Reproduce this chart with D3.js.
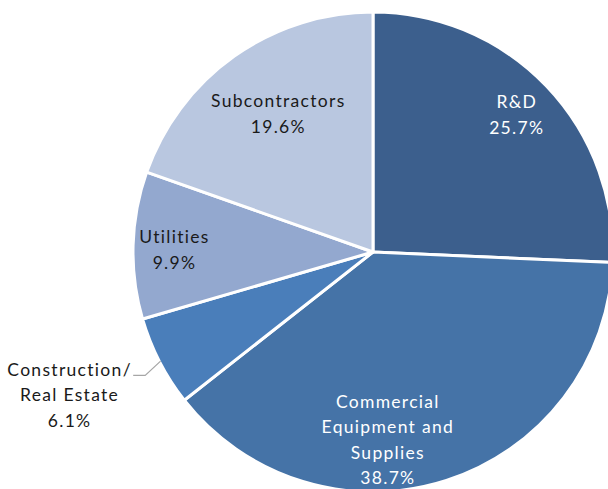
<!DOCTYPE html>
<html>
<head>
<meta charset="utf-8">
<script src="https://cdn.jsdelivr.net/npm/d3@7"></script>
<style>
  body { margin: 0; background: #fff; }
  svg { display: block; font-family: Lato, "Open Sans", sans-serif; }
</style>
</head>
<body>
<div class="chart"></div>
<script>
// slices, clockwise from 12 o'clock
var categories = ["R&D", "Commercial Equipment and Supplies", "Construction/ Real Estate", "Utilities", "Subcontractors"];
var shares = [25.7, 38.7, 6.1, 9.9, 19.6];
// label lines as shown on the chart
var labelLines = [["R&D"], ["Commercial", "Equipment and", "Supplies"], ["Construction/", "Real Estate"], ["Utilities"], ["Subcontractors"]];

var colors = ["#3c5f8d", "#4573a7", "#4a7eba", "#93a8cf", "#b9c7e0"];
var textColors = ["#fff", "#fff", "#1a1a1a", "#1a1a1a", "#1a1a1a"];

var width = 608, height = 489;
var cx = 373, cy = 252, radius = 240;

// label placement: radius as a share of the pie radius, plus angle nudge in degrees
var labelRadius = [0.825, 0.785, 1.4, 0.83, 0.70];
var labelNudge = [0, 13.5, 2, -1, 0.7];

var svg = d3.select(".chart").append("svg")
  .attr("width", width)
  .attr("height", height);

var group = svg.append("g")
  .attr("transform", "translate(" + cx + "," + cy + ")");

var pie = d3.pie().sort(null).value(function(d) { return d; });
var arcGen = d3.arc().innerRadius(0).outerRadius(radius);
var slices = pie(shares);

group.selectAll("path.slice")
  .data(slices)
  .enter()
  .append("path")
  .attr("class", "slice")
  .attr("d", arcGen)
  .attr("fill", function(d, i) { return colors[i]; })
  .attr("stroke", "#fff")
  .attr("stroke-width", 3)
  .attr("stroke-linejoin", "round");

function polar(angle, r) {
  return [r * Math.sin(angle), -r * Math.cos(angle)];
}

var lineHeight = 25.5;
var spacing = 1.3;

slices.forEach(function(s, i) {
  var mid = (s.startAngle + s.endAngle) / 2;
  var ang = mid + labelNudge[i] * Math.PI / 180;
  var pos = polar(ang, radius * labelRadius[i]);
  var lines = labelLines[i].concat([d3.format(".1f")(shares[i]) + "%"]);
  var top = pos[1] - (lines.length - 1) * lineHeight / 2;

  var text = group.append("text")
    .attr("text-anchor", "middle")
    .attr("fill", textColors[i])
    .style("font-size", "17.5px")
    .style("letter-spacing", spacing + "px");
  lines.forEach(function(line, j) {
    text.append("tspan")
      .attr("x", pos[0] + spacing / 2)
      .attr("y", top + j * lineHeight)
      .attr("dy", "0.35em")
      .text(line);
  });

  // leader line for the small outside label
  if (labelRadius[i] > 1) {
    var edge = polar(mid, radius * 0.995);
    var firstLine = text.select("tspan").node().getComputedTextLength();
    var startX = pos[0] + firstLine / 2 + 2;
    var startY = top + 6;
    group.append("polyline")
      .attr("points", [[startX, startY], [startX + 12, startY], edge].map(function(p) { return p.join(","); }).join(" "))
      .attr("fill", "none")
      .attr("stroke", "#a6a6a6")
      .attr("stroke-width", 1.2);
  }
});
</script>
</body>
</html>
